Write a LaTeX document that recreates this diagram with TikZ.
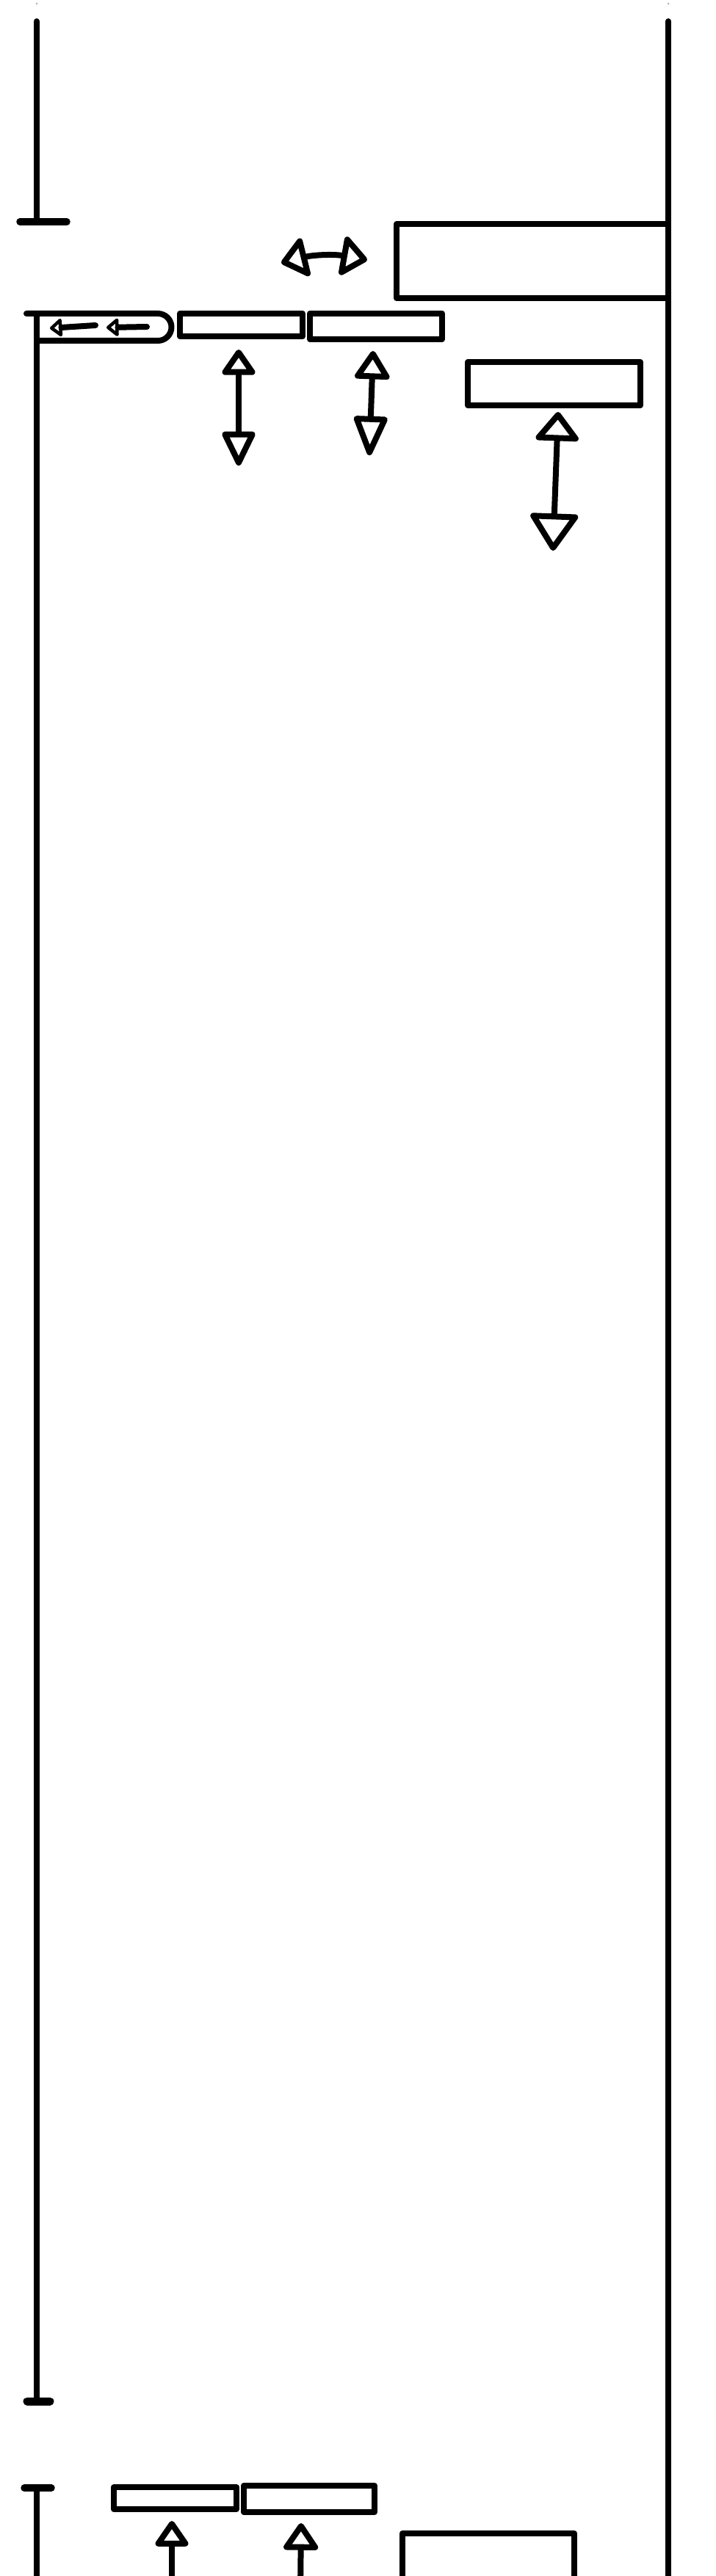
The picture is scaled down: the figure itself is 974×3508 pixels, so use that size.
\documentclass[tikz,border=0pt]{standalone}
\usetikzlibrary{arrows.meta,fit}
\tikzset{
  ink/.style={line width=0.8mm, line cap=round, line join=round, draw=black},
  box/.style={ink, inner sep=0pt, rectangle},
  bar/.style={line width=0.95mm, line cap=round},
  hsmall/.tip={Triangle[open,length=1.8mm,width=2.8mm,round]},
}
\begin{document}
\begin{tikzpicture}[x=0.1mm,y=-0.1mm]
\useasboundingbox (0,0) rectangle (974,3508);
\fill[white] (0,0) rectangle (974,3508);
\clip (0,0) rectangle (974,3508);

% tiny marks at the top
\fill[gray!60] (50,5) circle[radius=1.5];
\fill[gray!60] (910,5) circle[radius=1.5];

% coordinates of the frame lines
\coordinate (ltop) at (50,29);
\coordinate (lbar) at (50,302);
\coordinate (lmid) at (50,427);
\coordinate (lfoot) at (50,3270);
\coordinate (lT) at (50,3388);
\coordinate (lend) at (50,3530);
\coordinate (rtop) at (910,29);
\coordinate (rend) at (910,3530);

% left vertical lines with bars
\draw[ink] (ltop) -- (lbar);
\draw[ink,bar] (27,302) -- (91,302);
\draw[ink] (lmid) -- (lfoot);
\draw[ink,line width=1.1mm] (37,3270) -- (68,3270);
\draw[ink,bar] (33,3388) -- (70,3388);
\draw[ink] (lT) -- (lend);

% right vertical line
\draw[ink] (rtop) -- (rend);

% boxes
\node[box, draw, fit={(540,305) (910,406)}] (topbox) {};
\node[box, draw, fit={(245,427) (412,458)}] (b2) {};
\node[box, draw, fit={(422,427) (602,462)}] (b3) {};
\node[box, draw, fit={(637,493) (872,552)}] (b4) {};
\node[box, draw, fit={(155,3387) (322,3417)}] (bA) {};
\node[box, draw, fit={(332,3385) (510,3421)}] (bB) {};
\node[box, draw, fit={(548,3450) (782,3540)}] (bC) {};

% first box with rounded end
\draw[ink] (36,427) -- (215,427) arc[start angle=-90, end angle=90, radius=18.5] -- (50,464);
\draw[ink,-{hsmall}] (130,443) -- (68,447);
\draw[ink,-{hsmall}] (200,445) -- (145,446);

% horizontal double arrow
\coordinate (hL) at (383,358);
\coordinate (hR) at (500,354);
\draw[ink,{Triangle[open,length=3.8mm,width=6mm,round]}-{Triangle[open,length=3.8mm,width=6mm,round]}] (hL) to[bend left=12] (hR);

% vertical double arrows
\coordinate (a1t) at (325,476);
\coordinate (a1b) at (325,634);
\draw[ink,{Triangle[open,length=3.8mm,width=5mm,round]}-{Triangle[open,length=5.2mm,width=4.8mm,round]}] (a1t) -- (a1b);

\coordinate (a2t) at (508,478);
\coordinate (a2b) at (503,620);
\draw[ink,{Triangle[open,length=4.2mm,width=5.2mm,round]}-{Triangle[open,length=6mm,width=4.8mm,round]}] (a2t) -- (a2b);

\coordinate (a3t) at (760,561);
\coordinate (a3b) at (753,750);
\draw[ink,{Triangle[open,length=4.2mm,width=6.5mm,round]}-{Triangle[open,length=5.4mm,width=7mm,round]}] (a3t) -- (a3b);

% bottom arrows
\coordinate (aAt) at (234,3433);
\coordinate (aAb) at (234,3530);
\draw[ink,-{Triangle[open,length=3.8mm,width=5mm,round]}] (aAb) -- (aAt);

\coordinate (aBt) at (410,3436);
\coordinate (aBb) at (409,3530);
\draw[ink,-{Triangle[open,length=4mm,width=5.2mm,round]}] (aBb) -- (aBt);
\end{tikzpicture}
\end{document}
